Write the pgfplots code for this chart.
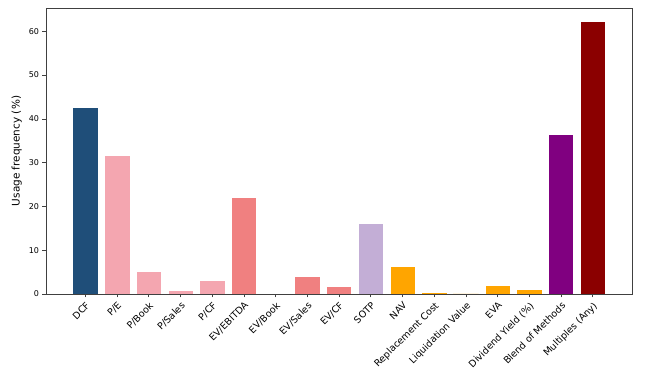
\documentclass[border=0pt]{standalone}
\usepackage{fontspec}
\setmainfont{DejaVu Sans}
\usepackage{pgfplots}
\pgfplotsset{compat=1.18}
\definecolor{cDCF}{HTML}{1F4E79}
\definecolor{cP}{HTML}{F4A6B0}
\definecolor{cEV}{HTML}{F08080}
\definecolor{cSOTP}{HTML}{C3AED6}
\definecolor{cOr}{HTML}{FFA500}
\definecolor{cBl}{HTML}{800080}
\definecolor{cMu}{HTML}{8B0000}
\begin{document}
\begin{tikzpicture}
\useasboundingbox (-46pt,-88pt) rectangle (617pt,294pt);
\begin{axis}[
  at={(0pt,0pt)}, anchor=south west,
  scale only axis, width=586pt, height=286pt,
  ybar, bar width=0.8, bar shift=0pt,
  xmin=-1.24, xmax=17.24, ymin=0, ymax=65.3,
  xtick={0,...,16},
  xticklabels={DCF,P/E,P/Book,P/Sales,P/CF,EV/EBITDA,EV/Book,EV/Sales,EV/CF,SOTP,NAV,Replacement Cost,Liquidation Value,EVA,Dividend Yield (\%),Blend of Methods,Multiples (Any)},
  xticklabel style={rotate=45, anchor=north east, font=\fontsize{9.5}{10}\selectfont, inner sep=2.5pt},
  ytick={0,10,...,60},
  yticklabel style={font=\fontsize{8}{9}\selectfont},
  /pgf/number format/assume math mode=true,
  tick align=outside, tick pos=left,
  major tick length=3.5pt,
  axis line style={black!75, line width=0.6pt},
  tick style={black!75, line width=0.6pt},
  ylabel={Usage frequency (\%)},
  ylabel style={font=\fontsize{10.5}{12}\selectfont},
  every axis plot/.append style={draw=white, line width=0.4pt},
]
\addplot[fill=cDCF] coordinates {(0,42.7)};
\addplot[fill=cP] coordinates {(1,31.7)};
\addplot[fill=cP] coordinates {(2,5.3)};
\addplot[fill=cP] coordinates {(3,0.9)};
\addplot[fill=cP] coordinates {(4,3.2)};
\addplot[fill=cEV] coordinates {(5,22.0)};
\addplot[fill=cEV] coordinates {(6,0.2)};
\addplot[fill=cEV] coordinates {(7,4.0)};
\addplot[fill=cEV] coordinates {(8,1.7)};
\addplot[fill=cSOTP] coordinates {(9,16.2)};
\addplot[fill=cOr] coordinates {(10,6.4)};
\addplot[fill=cOr] coordinates {(11,0.3)};
\addplot[fill=cOr] coordinates {(12,0.0)};
\addplot[fill=cOr] coordinates {(13,1.9)};
\addplot[fill=cOr] coordinates {(14,1.0)};
\addplot[fill=cBl] coordinates {(15,36.5)};
\addplot[fill=cMu] coordinates {(16,62.2)};
\end{axis}
\end{tikzpicture}
\end{document}
